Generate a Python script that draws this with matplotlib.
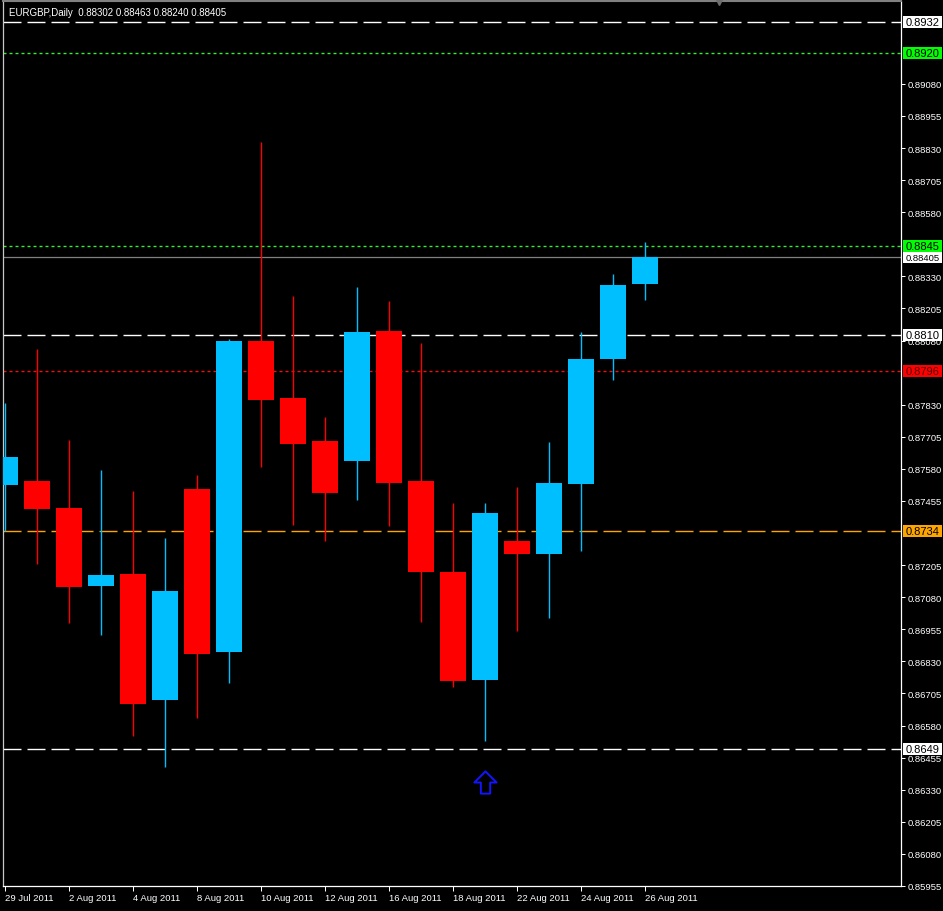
import matplotlib
matplotlib.use('Agg')
import matplotlib.pyplot as plt
from matplotlib.patches import Rectangle
import matplotlib.transforms as mtrans
from matplotlib.path import Path

plt.rcParams['font.family'] = ['Liberation Sans', 'DejaVu Sans']
plt.rcParams['lines.scale_dashes'] = False

# ---------------- data ----------------
dates = ['29 Jul 2011', '1 Aug 2011', '2 Aug 2011', '3 Aug 2011', '4 Aug 2011',
         '5 Aug 2011', '8 Aug 2011', '9 Aug 2011', '10 Aug 2011', '11 Aug 2011',
         '12 Aug 2011', '15 Aug 2011', '16 Aug 2011', '17 Aug 2011', '18 Aug 2011',
         '19 Aug 2011', '22 Aug 2011', '23 Aug 2011', '24 Aug 2011', '25 Aug 2011',
         '26 Aug 2011']
opens = [0.87516, 0.87531, 0.87426, 0.87123, 0.87169, 0.86679, 0.87500, 0.86866,
         0.88080, 0.87858, 0.87687, 0.87609, 0.88119, 0.87531, 0.87177, 0.86757,
         0.87298, 0.87247, 0.87523, 0.88010, 0.88302]
highs = [0.87835, 0.88049, 0.87691, 0.87574, 0.87492, 0.87309, 0.87558, 0.88088,
         0.88854, 0.88255, 0.87784, 0.88290, 0.88236, 0.88072, 0.87446, 0.87446,
         0.87508, 0.87683, 0.88115, 0.88341, 0.88463]
lows = [0.87337, 0.87208, 0.86979, 0.86932, 0.86539, 0.86418, 0.86609, 0.86745,
        0.87586, 0.87360, 0.87298, 0.87457, 0.87356, 0.86982, 0.86729, 0.86519,
        0.86947, 0.86998, 0.87259, 0.87928, 0.88240]
closes = [0.87628, 0.87422, 0.87119, 0.87165, 0.86663, 0.87103, 0.86858, 0.88080,
          0.87850, 0.87679, 0.87488, 0.88115, 0.87527, 0.87177, 0.86753, 0.87410,
          0.87247, 0.87527, 0.88010, 0.88298, 0.88405]

symbol_title = 'EURGBP,Daily  0.88302 0.88463 0.88240 0.88405'

# price-scale ticks that are not hidden behind the level labels
y_tick_labels = ['0.85955', '0.86080', '0.86205', '0.86330', '0.86455', '0.86580',
                 '0.86705', '0.86830', '0.86955', '0.87080', '0.87205',
                 '0.87455', '0.87580', '0.87705', '0.87830', '0.88080',
                 '0.88205', '0.88330', '0.88580', '0.88705', '0.88830',
                 '0.88955', '0.89080']

level_values = [0.8932, 0.8920, 0.8845, 0.8810, 0.8796, 0.8734, 0.8649]
level_labels = ['0.8932', '0.8920', '0.8845', '0.8810', '0.8796', '0.8734', '0.8649']
level_colors = ['#ffffff', '#33ee33', '#33ee33', '#ffffff', '#ee1111', '#ffa500', '#ffffff']
level_box_colors = ['#ffffff', '#00ff00', '#00ff00', '#ffffff', '#ff0000', '#ffa500', '#ffffff']
level_text_colors = ['#000000', '#000000', '#000000', '#000000', '#500000', '#000000', '#000000']
level_styles = ['long', 'dot', 'dot', 'long', 'dot', 'long', 'long']

bid_value = 0.88405
bid_label = '0.88405'

signal_bar = 15
signal_price = 0.86360

# ---------------- figure ----------------
W, H = 943, 912
fig = plt.figure(figsize=(W / 100, H / 100), dpi=100, facecolor='black')
ax_l, ax_r, ax_t, ax_b = 3, 901, 2, 887
ax = fig.add_axes([ax_l / W, (H - ax_b) / H, (ax_r - ax_l) / W, (ax_b - ax_t) / H])
ax.set_facecolor('black')

ylo, yhi = 0.85959, 0.89403
ax.set_ylim(ylo, yhi)
ax.set_xlim(-0.06, 28.0)
px_per_unit = (ax_b - ax_t) / (yhi - ylo)

bull = '#00bfff'
bear = '#ff0000'
xs = list(range(len(dates)))
cols = [bull if c >= o else bear for o, c in zip(opens, closes)]

ax.vlines(xs, lows, highs, colors=cols, linewidth=1.0, snap=True, zorder=3)
ax.bar(xs, [c - o for o, c in zip(opens, closes)], bottom=opens, width=0.8,
       color=cols, linewidth=0, zorder=4)

# horizontal levels
for v, c, st in zip(level_values, level_colors, level_styles):
    if st == 'long':
        d = (18 * 0.72, 6 * 0.72)
    else:
        d = (3 * 0.72, 3 * 0.72)
    ax.axhline(v, color=c, linewidth=1.0, dashes=d, snap=True, zorder=2)
ax.axhline(bid_value, color='#808080', linewidth=0.9, snap=True, zorder=2)

# signal arrow
arrow = Path([(0, 1), (1, 0.0), (0.42, 0.0), (0.42, -1), (-0.42, -1), (-0.42, 0.0),
              (-1, 0.0), (0, 1)],
             [Path.MOVETO] + [Path.LINETO] * 6 + [Path.CLOSEPOLY])
ax.plot([signal_bar], [signal_price], marker=arrow, markersize=16,
        markerfacecolor='none', markeredgecolor='#1414ff', markeredgewidth=1.4,
        linestyle='none', zorder=5)

# axes styling
for s in ['left', 'right', 'bottom']:
    ax.spines[s].set_color('white')
    ax.spines[s].set_linewidth(0.9)
ax.spines['left'].set_color('#c8c8c8')
ax.spines['top'].set_color('#808080')
ax.spines['top'].set_linewidth(1.5)

ax.yaxis.tick_right()
ax.set_yticks([float(t) for t in y_tick_labels])
ax.set_yticklabels(y_tick_labels)
ax.tick_params(axis='y', colors='white', length=3, width=0.72, pad=1.5,
               labelsize=6.8, direction='out')

ax.set_xticks(xs[::2])
ax.set_xticklabels(dates[::2])
ax.tick_params(axis='x', colors='white', length=3.5, width=0.72, pad=1.5,
               labelsize=6.8, direction='out')
for lab in ax.get_xticklabels():
    lab.set_horizontalalignment('left')

# price labels on right axis
blend = mtrans.blended_transform_factory(ax.transAxes, ax.transData)
bx0 = (903 - ax_l) / (ax_r - ax_l)
bx1 = (942 - ax_l) / (ax_r - ax_l)
tx = (906 - ax_l) / (ax_r - ax_l)
hh = 6.0 / px_per_unit
for v, lab, bc, tc in zip(level_values, level_labels, level_box_colors, level_text_colors):
    ax.add_patch(Rectangle((bx0, v - hh), bx1 - bx0, 2 * hh, transform=blend,
                           facecolor=bc, edgecolor='none', clip_on=False, zorder=20))
    ax.text(tx, v, lab, transform=blend, ha='left', va='center', fontsize=8,
            color=tc, clip_on=False, zorder=21)
hb = 5.5 / px_per_unit
ax.add_patch(Rectangle((bx0, bid_value - hb), bx1 - bx0, 2 * hb, transform=blend,
                       facecolor='white', edgecolor='none', clip_on=False, zorder=20))
ax.text(tx, bid_value, bid_label, transform=blend, ha='left', va='center',
        fontsize=6.8, color='black', clip_on=False, zorder=21)

# top shift marker
ax.plot([(719 - ax_l) / (ax_r - ax_l)], [1.0], marker='v', markersize=6,
        color='#6e6e6e', transform=ax.transAxes, clip_on=False, zorder=6,
        linestyle='none')

fig.text(9 / W, 1 - 13 / H, symbol_title, color='white', fontsize=7,
         ha='left', va='center')

fig.savefig('out.png', dpi=100, facecolor='black')
